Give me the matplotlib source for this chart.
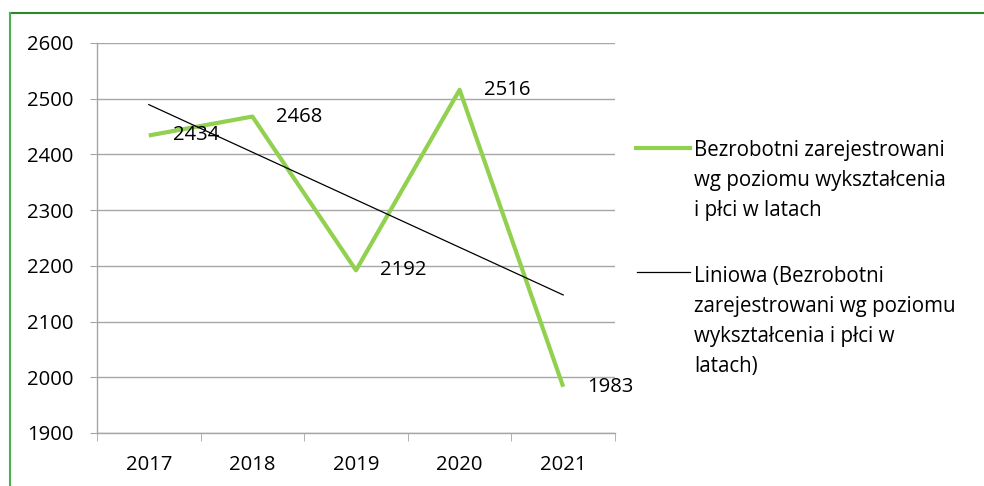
import numpy as np
import matplotlib
matplotlib.use("Agg")
import matplotlib.pyplot as plt
from matplotlib.lines import Line2D

years = ["2017", "2018", "2019", "2020", "2021"]
values = [2434, 2468, 2192, 2516, 1983]
series_lines = ["Bezrobotni zarejestrowani", "wg poziomu wykształcenia", "i płci w latach"]
trend_lines = ["Liniowa (Bezrobotni", "zarejestrowani wg poziomu", "wykształcenia i płci w", "latach)"]

plt.rcParams['font.family'] = ['Open Sans', 'DejaVu Sans']
NUM_FS = 14.6
LEG_FS = 14.8

fig = plt.figure(figsize=(9.84, 4.86), dpi=100)
ax = fig.add_axes([97/984, 1-433/486, (615-97)/984, (433-43)/486])

x = np.arange(len(years))
green = "#92D050"
ax.plot(x, values, color=green, lw=3.0, solid_capstyle='butt', zorder=3)
coef = np.polyfit(x, values, 1)
ax.plot(x, np.polyval(coef, x), color="black", lw=0.9, zorder=4)

for xi, v in zip(x, values):
    ax.annotate(str(v), (xi, v), xytext=(24, 0), textcoords='offset pixels',
                ha='left', va='center', fontsize=NUM_FS, zorder=5)

ax.set_xlim(-0.5, 4.5)
ax.set_ylim(1900, 2600)
ax.set_yticks(np.arange(1900, 2601, 100))
ax.yaxis.grid(True, color="#A6A6A6", lw=1)
ax.set_axisbelow(True)
ax.set_xticks(x)
ax.set_xticklabels(years)
ax.set_xticks(np.arange(-0.5, 4.6, 1), minor=True)
ax.tick_params(axis='x', which='major', length=0, pad=16, labelsize=NUM_FS)
ax.tick_params(axis='x', which='minor', length=6, color="#A6A6A6", direction='out')
ax.tick_params(axis='y', length=5, color="#A6A6A6", pad=12, labelsize=NUM_FS)
for s in ['top', 'right']:
    ax.spines[s].set_visible(False)
for s in ['left', 'bottom']:
    ax.spines[s].set_color("#A6A6A6")
    ax.spines[s].set_linewidth(1)

# legend (manual)
W, H = 984, 486
def fx(px): return px / W
def fy(py): return 1 - py / H
fig.add_artist(Line2D([fx(636), fx(690)], [fy(148), fy(148)], color=green, lw=3.0))
for i, t in enumerate(series_lines):
    fig.text(fx(694), fy(148 + 30 * i), t, fontsize=LEG_FS, va='center_baseline', ha='left')
fig.add_artist(Line2D([fx(637), fx(690)], [fy(272), fy(272)], color="black", lw=0.9))
for i, t in enumerate(trend_lines):
    fig.text(fx(694), fy(274 + 30 * i), t, fontsize=LEG_FS, va='center_baseline', ha='left')

# outer frame (partially visible)
fig.add_artist(Line2D([fx(10), fx(984)], [fy(13), fy(13)], color="#2A8A2A", lw=1.5))
fig.add_artist(Line2D([fx(10), fx(10)], [fy(13), fy(486)], color="#4CB04C", lw=1.5))

fig.savefig("out.png", dpi=100)
